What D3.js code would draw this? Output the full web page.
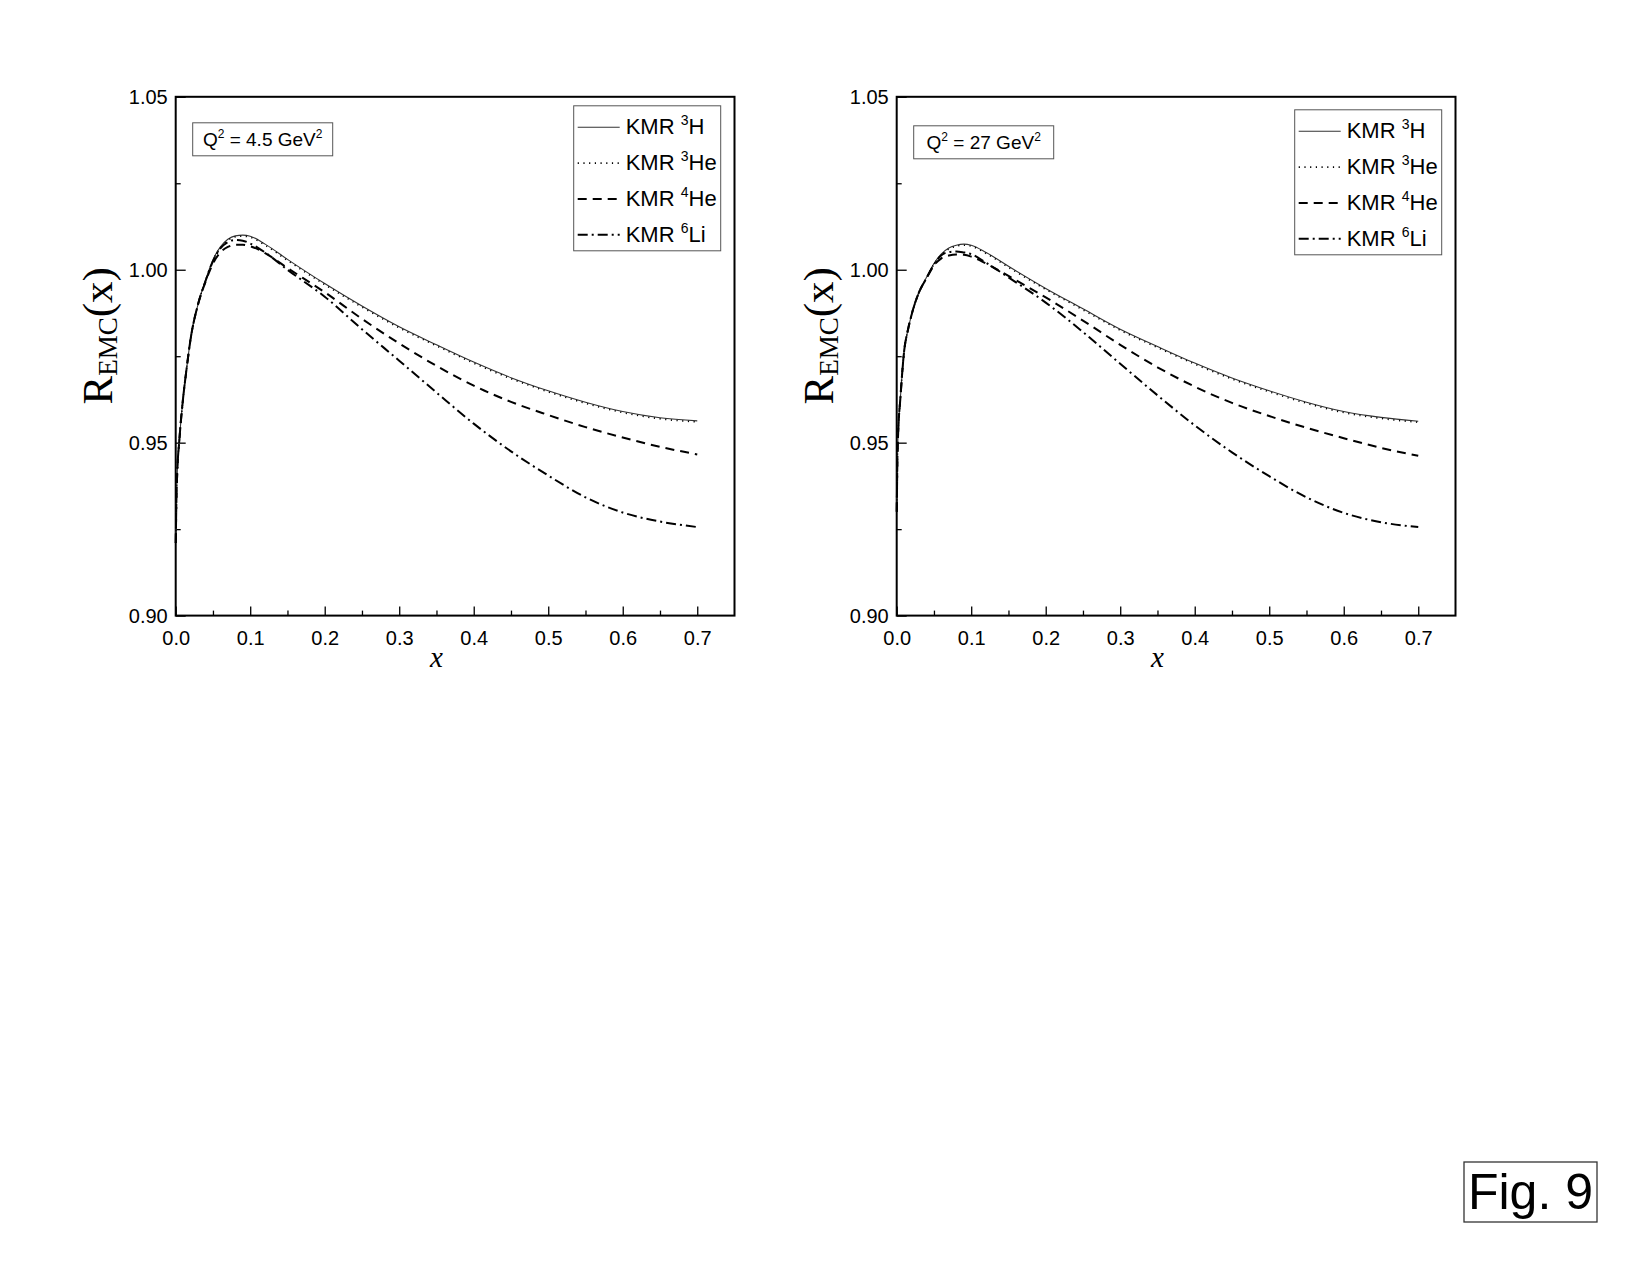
<!DOCTYPE html>
<html lang="en">
<head>
<meta charset="utf-8">
<title>R_EMC(x) - KMR</title>
<style>
  body { margin: 0; background: #ffffff; }
  svg { display: block; }
  .tick text { font-family: "Liberation Sans", Arial, sans-serif; font-size: 20px; fill: #000; }
  .tick line { stroke: #000; stroke-width: 1.3px; }
</style>
</head>
<body>
<svg id="fig" width="1650" height="1275"></svg>
<script src="https://cdn.jsdelivr.net/npm/d3@7"></script>
<script>
// x grid shared by every curve
var xGrid = [0.0001, 0.001, 0.002, 0.005, 0.01, 0.015, 0.02, 0.03, 0.04, 0.05, 0.06, 0.07, 0.08, 0.09,
             0.10, 0.12, 0.15, 0.20, 0.25, 0.30, 0.35, 0.40, 0.45, 0.50, 0.55, 0.60, 0.65, 0.70];

// Q^2 = 4.5 GeV^2
var h3_45  = [0.921, 0.934, 0.941, 0.951, 0.963, 0.972, 0.980, 0.990, 0.9970, 1.0029, 1.0066, 1.0088, 1.0098, 1.0100,
              1.0097, 1.0074, 1.0030, 0.9960, 0.9895, 0.9835, 0.9783, 0.9733, 0.9688, 0.9650, 0.9617, 0.9590, 0.9572, 0.9563];
var he3_45 = [0.921, 0.934, 0.941, 0.951, 0.963, 0.972, 0.980, 0.990, 0.9968, 1.0027, 1.0063, 1.0085, 1.0095, 1.0097,
              1.0094, 1.0071, 1.0027, 0.9957, 0.9892, 0.9832, 0.9780, 0.9730, 0.9685, 0.9647, 0.9614, 0.9587, 0.9569, 0.9560];
var he4_45 = [0.921, 0.934, 0.941, 0.951, 0.963, 0.972, 0.980, 0.990, 0.9965, 1.0018, 1.0050, 1.0066, 1.0072, 1.0072,
              1.0068, 1.0048, 1.0005, 0.9935, 0.9858, 0.9787, 0.9722, 0.9665, 0.9618, 0.9580, 0.9545, 0.9515, 0.9488, 0.9466];
var li6_45 = [0.921, 0.934, 0.941, 0.951, 0.963, 0.972, 0.980, 0.990, 0.9967, 1.0024, 1.0062, 1.0080, 1.0086, 1.0084,
              1.0076, 1.0050, 1.0000, 0.9922, 0.9828, 0.9737, 0.9645, 0.9555, 0.9475, 0.9405, 0.9342, 0.9298, 0.9272, 0.9256];

// Q^2 = 27 GeV^2
var h3_27  = [0.930, 0.946, 0.953, 0.963, 0.9765, 0.9825, 0.9870, 0.9935, 0.9978, 1.0018, 1.0046, 1.0063, 1.0071, 1.0074,
              1.0071, 1.0050, 1.0010, 0.9946, 0.9887, 0.9828, 0.9778, 0.9730, 0.9687, 0.9650, 0.9617, 0.9590, 0.9573, 0.9562];
var he3_27 = [0.930, 0.946, 0.953, 0.963, 0.9765, 0.9825, 0.9870, 0.9935, 0.9976, 1.0016, 1.0043, 1.0060, 1.0068, 1.0071,
              1.0068, 1.0047, 1.0007, 0.9943, 0.9884, 0.9825, 0.9775, 0.9727, 0.9684, 0.9647, 0.9614, 0.9587, 0.9570, 0.9559];
var he4_27 = [0.930, 0.946, 0.953, 0.963, 0.9765, 0.9825, 0.9870, 0.9935, 0.9975, 1.0012, 1.0033, 1.0041, 1.0044, 1.0043,
              1.0038, 1.0018, 0.9982, 0.9920, 0.9853, 0.9783, 0.9718, 0.9662, 0.9615, 0.9577, 0.9543, 0.9513, 0.9485, 0.9462];
var li6_27 = [0.930, 0.946, 0.953, 0.963, 0.9765, 0.9825, 0.9870, 0.9935, 0.9976, 1.0015, 1.0042, 1.0051, 1.0053, 1.0050,
              1.0045, 1.0020, 0.9978, 0.9905, 0.9820, 0.9728, 0.9637, 0.9550, 0.9472, 0.9403, 0.9342, 0.9297, 0.9270, 0.9256];

var nuclei = [["3", "H"], ["3", "He"], ["4", "He"], ["6", "Li"]];
var qLabels = ["4.5", "27"];
var xTicks = [0, 0.1, 0.2, 0.3, 0.4, 0.5, 0.6, 0.7];
var xMinor = [0.05, 0.15, 0.25, 0.35, 0.45, 0.55, 0.65];
var yTicks = [0.90, 0.95, 1.00, 1.05];
var yMinor = [0.925, 0.975, 1.025];

var styles = [
  {dash: null,        width: 1.1, color: "#333"},
  {dash: "1.2,4.5",   width: 1.6, color: "#000"},
  {dash: "9,6",       width: 2.0, color: "#000"},
  {dash: "10,4,2,4",  width: 2.0, color: "#000"}
];

var svg = d3.select("#fig");
svg.append("rect").attr("width", 1650).attr("height", 1275).attr("fill", "#fff");

var W = 558.8, H = 518.8;
var x = d3.scaleLinear().domain([0, 0.75]).range([0, W]);
var y = d3.scaleLinear().domain([0.90, 1.05]).range([H, 0]);

var panels = [
  {left: 175.7, top: 96.8, q: qLabels[0], series: [h3_45, he3_45, he4_45, li6_45], legTop: 9,  qTop: 26},
  {left: 896.7, top: 96.8, q: qLabels[1], series: [h3_27, he3_27, he4_27, li6_27], legTop: 13, qTop: 29}
];

panels.forEach(function(p) {
  var g = svg.append("g").attr("transform", "translate(" + p.left + "," + p.top + ")");

  // axes, ticks inward
  g.append("g").attr("transform", "translate(0," + H + ")")
    .call(d3.axisBottom(x).tickValues(xTicks).tickSize(-9).tickPadding(15).tickFormat(d3.format(".1f")))
    .call(function(a) { a.select(".domain").remove(); });
  g.append("g").attr("transform", "translate(0," + H + ")")
    .call(d3.axisBottom(x).tickValues(xMinor).tickSize(-5).tickFormat(""))
    .call(function(a) { a.select(".domain").remove(); });
  g.append("g")
    .call(d3.axisLeft(y).tickValues(yTicks).tickSize(-10).tickPadding(8).tickFormat(d3.format(".2f")))
    .call(function(a) { a.select(".domain").remove(); });
  g.append("g")
    .call(d3.axisLeft(y).tickValues(yMinor).tickSize(-5).tickFormat(""))
    .call(function(a) { a.select(".domain").remove(); });

  g.append("rect").attr("width", W).attr("height", H)
    .attr("fill", "none").attr("stroke", "#000").attr("stroke-width", 2);

  // curves
  var line = d3.line().curve(d3.curveMonotoneX)
    .x(function(d, i) { return x(xGrid[i]); })
    .y(function(d) { return y(d); });

  p.series.forEach(function(s, k) {
    g.append("path").datum(s)
      .attr("d", line)
      .attr("fill", "none")
      .attr("stroke", styles[k].color)
      .attr("stroke-width", styles[k].width)
      .attr("stroke-dasharray", styles[k].dash);
  });

  // Q^2 box
  var qb = g.append("g").attr("transform", "translate(17," + p.qTop + ")");
  qb.append("rect").attr("width", 140).attr("height", 33)
    .attr("fill", "#fff").attr("stroke", "#555").attr("stroke-width", 1);
  var qt = qb.append("text").attr("x", 70).attr("y", 23)
    .attr("text-anchor", "middle")
    .style("font-family", "Liberation Sans, Arial, sans-serif").style("font-size", "19px");
  qt.append("tspan").text("Q");
  qt.append("tspan").attr("dy", -8).style("font-size", "12px").text("2");
  qt.append("tspan").attr("dy", 8).text(" = " + p.q + " GeV");
  qt.append("tspan").attr("dy", -8).style("font-size", "12px").text("2");

  // legend
  var lg = g.append("g").attr("transform", "translate(398," + p.legTop + ")");
  lg.append("rect").attr("width", 147).attr("height", 145)
    .attr("fill", "#fff").attr("stroke", "#555").attr("stroke-width", 1);
  nuclei.forEach(function(n, k) {
    var by = 28.5 + k * 35.8;
    lg.append("line").attr("x1", 4).attr("x2", 46).attr("y1", by - 7).attr("y2", by - 7)
      .attr("stroke", styles[k].color)
      .attr("stroke-width", styles[k].width)
      .attr("stroke-dasharray", styles[k].dash);
    var t = lg.append("text").attr("x", 52).attr("y", by)
      .style("font-family", "Liberation Sans, Arial, sans-serif").style("font-size", "22px");
    t.append("tspan").text("KMR ");
    t.append("tspan").attr("dy", -9).style("font-size", "14px").text(n[0]);
    t.append("tspan").attr("dy", 9).text(n[1]);
  });

  // axis titles
  g.append("text").attr("x", x(0.35)).attr("y", H + 51)
    .attr("text-anchor", "middle")
    .style("font-family", "Liberation Serif, Times New Roman, serif")
    .style("font-style", "italic").style("font-size", "29px").text("x");

  var yl = g.append("text")
    .attr("transform", "translate(-64,239) rotate(-90)")
    .attr("text-anchor", "middle")
    .style("font-family", "Liberation Serif, Times New Roman, serif").style("font-size", "43px");
  yl.append("tspan").text("R");
  yl.append("tspan").attr("dy", 5).style("font-size", "27px").text("EMC");
  yl.append("tspan").attr("dy", -5).text("(x)");
});

// figure tag
var fg = svg.append("g").attr("transform", "translate(1464,1162)");
fg.append("rect").attr("width", 133).attr("height", 60)
  .attr("fill", "#fff").attr("stroke", "#333").attr("stroke-width", 1.3);
fg.append("text").attr("x", 66.5).attr("y", 47).attr("text-anchor", "middle")
  .style("font-family", "Liberation Sans, Arial, sans-serif").style("font-size", "50px")
  .text("Fig. 9");
</script>
</body>
</html>
